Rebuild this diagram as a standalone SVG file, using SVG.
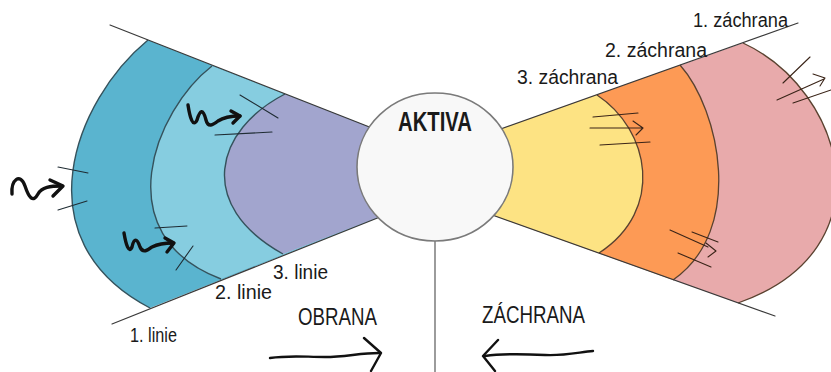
<svg xmlns="http://www.w3.org/2000/svg" width="831" height="372" viewBox="0 0 831 372">
  <style>
    .lbl { font-family: "Liberation Sans", Arial, sans-serif; fill: #1a1a1a; }
    .small { font-size: 20px; }
    .cap { font-size: 24px; }
    .guide { fill: none; stroke: #3a3a3a; stroke-width: 1.2; stroke-linecap: round; }
    .edgeL { fill: none; stroke: #35525c; stroke-width: 1.4; }
    .edgeR { fill: none; stroke: #5a4230; stroke-width: 1.3; }
    .tick { fill: none; stroke: #1f2c33; stroke-width: 1.1; stroke-linecap: round; }
    .tickR { fill: none; stroke: #3a2418; stroke-width: 1.1; stroke-linecap: round; stroke-linejoin: round; }
    .ink { fill: none; stroke: #111; stroke-width: 3.4; stroke-linecap: round; stroke-linejoin: round; }
    .pen { fill: none; stroke: #111; stroke-width: 2.4; stroke-linecap: round; stroke-linejoin: round; }
  </style>

  <rect width="831" height="372" fill="#ffffff"/>

  <!-- left fan: defence lines -->
  <g id="linie-1">
    <path d="M148,40 C 75,100 20,240 150,308 L400,209 L400,139 Z" fill="#5ab4cf"/>
    <path class="edgeL" d="M148,40 C 75,100 20,240 150,308" stroke="#3b6878"/>
  </g>
  <g id="linie-2">
    <path d="M212,66 C 155,110 105,235 221,279 L400,209 L400,139 Z" fill="#86cde0"/>
    <path class="edgeL" d="M212,66 C 155,110 105,235 221,279" stroke-width="2.2" stroke="#34474f"/>
  </g>
  <g id="linie-3">
    <path d="M285,94 C 215,130 195,205 283,254 L400,209 L400,139 Z" fill="#a2a5ce"/>
    <path class="edgeL" d="M285,94 C 215,130 195,205 283,254" stroke="#5f6878" stroke-width="1.6"/>
  </g>

  <!-- right fan: rescue lines -->
  <g id="zachrana-1">
    <path d="M743,43 C 845,90 890,250 738,303 L470,207 L470,140 Z" fill="#e8aaab"/>
    <path class="edgeR" d="M743,43 C 845,90 890,250 738,303"/>
  </g>
  <g id="zachrana-2">
    <path d="M680,65 C 720,110 745,230 673,280 L470,207 L470,140 Z" fill="#fd9a55"/>
    <path class="edgeR" d="M680,65 C 720,110 745,230 673,280"/>
  </g>
  <g id="zachrana-3">
    <path d="M597,95 C 650,130 665,210 599,253 L470,207 L470,140 Z" fill="#fde383"/>
    <path class="edgeR" d="M597,95 C 650,130 665,210 599,253"/>
  </g>

  <!-- guide lines, divider and direction arrows -->
  <g id="connectors">
    <path class="guide" d="M110,25 L400,139"/>
    <path class="guide" d="M112,324 L400,209"/>
    <path class="guide" d="M470,140 L798,23"/>
    <path class="guide" d="M470,207 L775,316"/>
    <path d="M435,240 L435,372" fill="none" stroke="#666" stroke-width="1.3"/>
    <path class="pen" d="M270,358 C 290,355 305,357 325,357 C 345,357 360,353 379,353"/>
    <path class="pen" d="M364,338 L381,353 L371,371"/>
    <path class="pen" d="M485,356 C 505,353 525,354 545,355 C 565,356 580,352 593,351"/>
    <path class="pen" d="M498,340 L483,356 L495,371"/>
  </g>

  <!-- central circle -->
  <g id="aktiva">
    <ellipse cx="435" cy="167" rx="78" ry="74" fill="#f8f8f8" stroke="#7a7a7a" stroke-width="1.6"/>
    <text class="lbl" x="435" y="131" text-anchor="middle" font-size="27" font-weight="bold" textLength="74" lengthAdjust="spacingAndGlyphs">AKTIVA</text>
  </g>

  <!-- attacks hitting the defence lines -->
  <g id="utoky">
    <path class="ink" d="M12,194 C 11,180 20,172 25,186 C 29,198 33,203 38,194 C 42,187 50,186 62,186"/>
    <path class="ink" d="M50,180 L63,186 L53,196"/>
    <path class="tick" d="M58,167 L88,173 M58,210 L87,201"/>

    <path class="ink" d="M124,233 C 126,245 129,254 132,247 C 134,238 137,238 140,247 C 143,254 148,250 152,247 C 158,244 165,243 173,243"/>
    <path class="ink" d="M165,238 L174,243 L167,252"/>
    <path class="tick" d="M155,228 L187,226 M176,270 L193,246"/>

    <path class="ink" d="M188,105 C 190,118 193,128 197,120 C 200,110 203,108 206,120 C 208,128 213,125 218,121 C 224,117 232,116 240,116"/>
    <path class="ink" d="M231,111 L240,116 L233,123"/>
    <path class="tick" d="M240,95 L278,118 M215,135 L272,132"/>
  </g>

  <!-- rescue strokes crossing the bands -->
  <g id="prechody">
    <path class="tickR" d="M593,117 L638,113 M590,128 L643,128 M600,145 L650,142 M633,121 L643,128 L636,135"/>
    <path class="tickR" d="M670,230 L708,247 M692,232 L718,242 M678,253 L711,267 M706,243 L716,251 L708,257"/>
    <path class="tickR" d="M810,57 L783,83 M777,100 L824,79 M793,103 L831,90 M813,74 L825,78 L820,86"/>
  </g>

  <!-- labels -->
  <g id="popisky">
    <text class="lbl small" x="273" y="279" textLength="55" lengthAdjust="spacingAndGlyphs">3. linie</text>
    <text class="lbl small" x="215" y="299" textLength="57" lengthAdjust="spacingAndGlyphs">2. linie</text>
    <text class="lbl small" x="130" y="342" textLength="47" lengthAdjust="spacingAndGlyphs">1. linie</text>
    <text class="lbl cap" x="298" y="325" textLength="79" lengthAdjust="spacingAndGlyphs">OBRANA</text>
    <text class="lbl cap" x="482" y="323" textLength="103" lengthAdjust="spacingAndGlyphs">ZÁCHRANA</text>
    <text class="lbl small" x="517" y="84" textLength="101" lengthAdjust="spacingAndGlyphs">3. záchrana</text>
    <text class="lbl small" x="605" y="57" textLength="102" lengthAdjust="spacingAndGlyphs">2. záchrana</text>
    <text class="lbl small" x="693" y="27" textLength="95" lengthAdjust="spacingAndGlyphs">1. záchrana</text>
  </g>
</svg>
